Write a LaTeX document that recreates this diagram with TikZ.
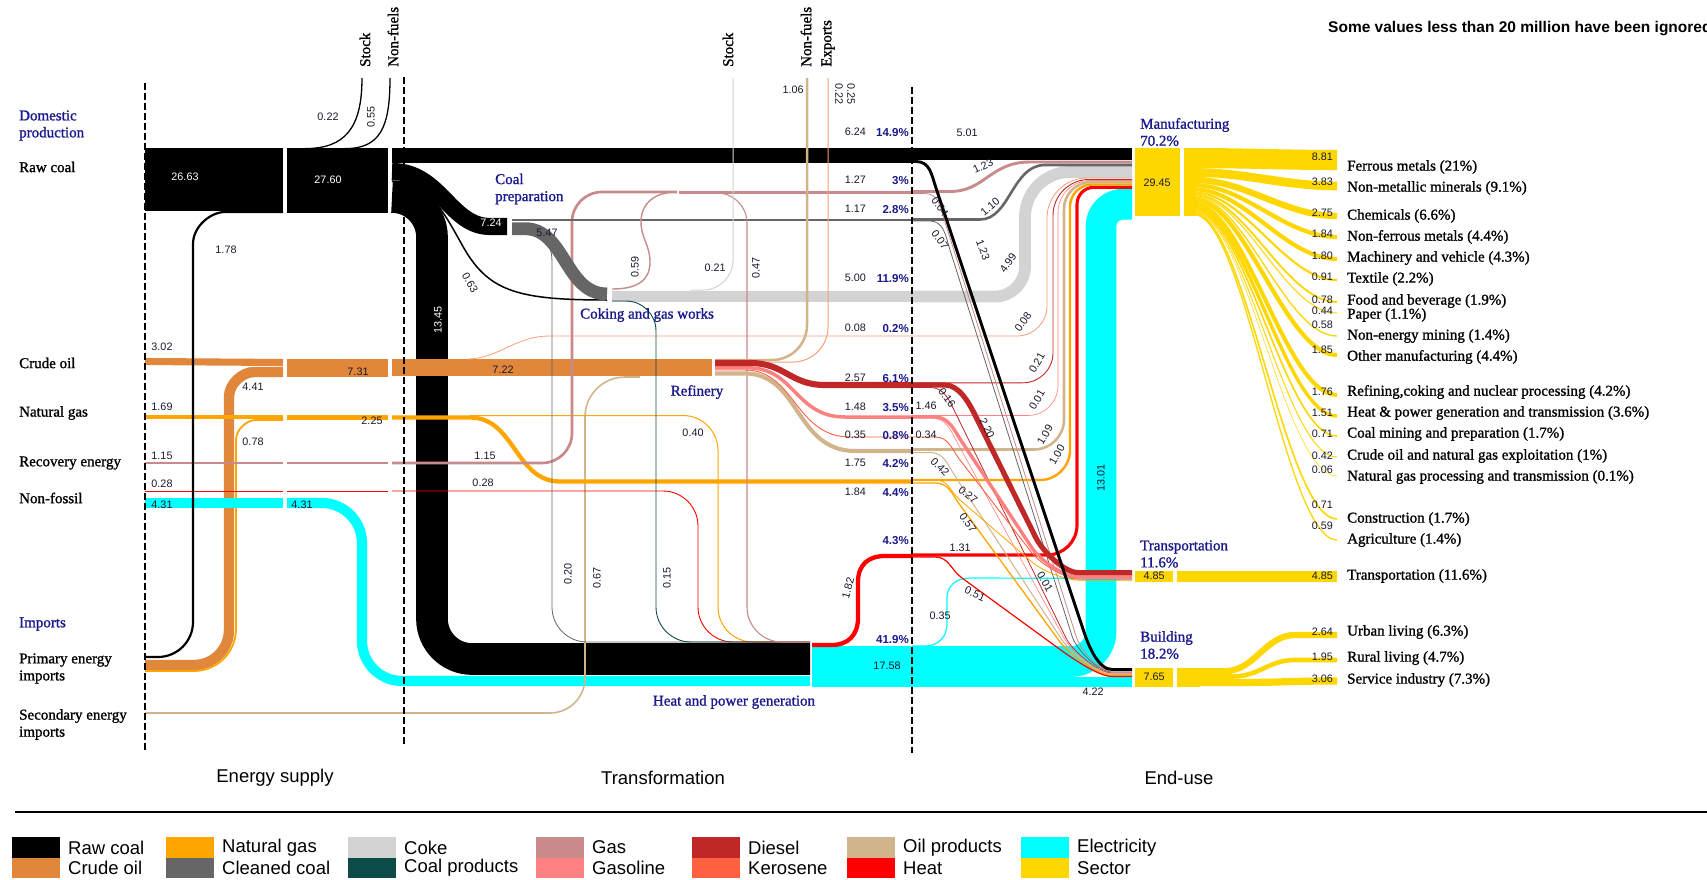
\documentclass[tikz,border=0pt]{standalone}
\usepackage{fontspec}
\setmainfont[FakeBold=1.2]{Liberation Serif}
\newfontfamily\sansf{Liberation Sans}
\usetikzlibrary{calc}
\definecolor{crude}{RGB}{224,135,60}
\definecolor{ngas}{RGB}{255,165,0}
\definecolor{clean}{RGB}{102,102,102}
\definecolor{coke}{RGB}{211,211,211}
\definecolor{cprod}{RGB}{12,75,72}
\definecolor{gas}{RGB}{200,138,138}
\definecolor{gasoline}{RGB}{255,128,128}
\definecolor{diesel}{RGB}{192,40,40}
\definecolor{kero}{RGB}{255,96,64}
\definecolor{oilp}{RGB}{210,180,140}
\definecolor{heat}{RGB}{255,0,0}
\definecolor{elec}{RGB}{0,255,255}
\definecolor{sector}{RGB}{255,215,0}
\definecolor{navy}{RGB}{25,25,140}
\definecolor{lsalmon}{RGB}{244,160,120}
\definecolor{txt}{RGB}{25,25,45}
\newcommand\labfont{\fontsize{15}{17}\selectfont}
\newcommand\numfont{\sansf\fontsize{10.8}{12}\selectfont}
\newcommand\pctfont{\sansf\bfseries\fontsize{11.5}{13}\selectfont}
\newcommand\legfont{\sansf\fontsize{18.5}{20}\selectfont}
\newcommand\secfont{\sansf\fontsize{18.5}{20}\selectfont}
\newcommand\titfont{\sansf\bfseries\fontsize{15.5}{17}\selectfont}
% up-turning flow into manufacturing: style, y0, xv, ytop, r1, r2
\newcommand\upl[6]{\draw[#1] (912,#2) -- ({#3-#5},#2) .. controls ({#3-0.448*#5},#2) and (#3,{#2-0.448*#5}) .. (#3,{#2-#5}) -- (#3,{#4+#6}) .. controls (#3,{#4+0.448*#6}) and ({#3+0.448*#6},#4) .. ({#3+#6},#4) -- (1132,#4);}
% diagonal flow: style, y0, xs, B, C, xe, ye
\newcommand\flw[7]{\draw[#1] (912,#2) -- (#3,#2) .. controls ($(#3,#2)+(14,0)$) and ($(#4)!-14pt!(#5)$) .. (#4) -- (#5) .. controls ($(#5)!-14pt!(#4)$) and ($(#6,#7)+(-14,0)$) .. (#6,#7) -- (1132,#7);}
\newcommand\sfan[3]{\draw[sector, line width=#1] (1194,#2) .. controls (1245,#2) and (1285,#3) .. (1337,#3);}
\newcommand\legitem[4]{\fill[#3] (#1,#2) rectangle ++(48,20.5); \node[font=\legfont, anchor=west, inner sep=0pt] at ({#1+56},{#2+10.5}) {#4};}
\tikzset{
  num/.style={font=\numfont, inner sep=0pt, text=txt},
  wnum/.style={font=\numfont, inner sep=0pt, text=white},
  lab/.style={font=\labfont, inner sep=0pt, anchor=west, align=left},
  nlab/.style={font=\labfont, inner sep=0pt, anchor=west, align=left, text=navy},
  pct/.style={font=\pctfont, inner sep=0pt, anchor=east, text=navy},
  rlab/.style={font=\labfont, inner sep=0pt, anchor=west, rotate=90},
  slab/.style={font=\labfont, inner sep=0pt, anchor=west},
  snum/.style={font=\numfont, inner sep=0pt, anchor=east, text=txt},
  vdash/.style={line width=2.2, dash pattern=on 7pt off 3pt},
}
\begin{document}
\begin{tikzpicture}[x=1pt,y=-1pt,line join=round]
\useasboundingbox (0,0) rectangle (1707,880);
\fill[white] (0,0) rectangle (1707,880);

% ---------- transformation: big raw coal to H&P and electricity
\draw[line width=31.7] (392,197) .. controls (414,197) and (432,215) .. (432,237) -- (432,619) .. controls (432,641) and (450,659) .. (472,659) -- (810,659);
\draw[elec, line width=10.2] (287,503) -- (322,503) .. controls (344,503) and (362,521) .. (362,543) -- (362,641) .. controls (362,663) and (380,681) .. (402,681) -- (810,681);

% ---------- import verticals
\draw[crude, line width=10.4] (145,665) -- (194,665) .. controls (213.3,665) and (229,649.3) .. (229,630) -- (229,397) .. controls (229,383.2) and (242.8,372) .. (254,372) -- (283,372);
\draw[ngas, line width=1.8] (145,671) -- (194,671) .. controls (217.2,671) and (236,652.2) .. (236,629) -- (236,440) .. controls (236,429) and (247,420) .. (256,420) -- (283,420);
\draw[oilp, line width=1.6] (145,713) -- (550,713) .. controls (569.3,713) and (585,697.3) .. (585,678) -- (585,417) .. controls (585,394.9) and (602.9,377) .. (625,377) -- (640,377);

% ---------- supply horizontals
\fill (145,148) rectangle (283,211);
\fill (287,148) rectangle (388,213);
\draw[crude, line width=7.1] (145,361.5) -- (283,362.5);
\fill[crude] (287,359) rectangle (388,377);
\draw[ngas, line width=4] (145,417) -- (283,417);
\fill[ngas] (287,414.5) rectangle (388,420);
\draw[gas, line width=2.7] (145,463) -- (283,463) (287,463) -- (388,463);
\draw[heat, line width=0.9] (145,491) -- (283,491) (287,491) -- (388,491);
\draw[elec, line width=10.2] (145,503) -- (283,503);
\draw[line width=1.3] (305,148.6) .. controls (345,148.6) and (362,128) .. (362,78);
\draw[line width=1.3] (345,148.6) .. controls (380,148.6) and (390,128) .. (390,78);
\draw[line width=2.2] (145,657) -- (158,657) .. controls (177.3,657) and (193,641.3) .. (193,622) -- (193,244) .. controls (193,226.3) and (210.7,212) .. (225,212) -- (283,212);

% ---------- transformation horizontals
\fill (392,148) rectangle (912,163);
\fill[crude] (392,359) rectangle (712,376);
\draw[lsalmon, line width=0.8] (468,359) .. controls (500,358) and (515,336) .. (550,336) -- (912,336);
\draw[ngas, line width=4.3] (392,417.5) -- (470,417.5) .. controls (515,417.5) and (515,481.5) .. (560,481.5) -- (912,481.5);
\draw[ngas, line width=1] (470,415.5) -- (683,415.5) .. controls (702.3,415.5) and (718,431.2) .. (718,450.5) -- (718,607) .. controls (718,626.3) and (733.7,642) .. (753,642) -- (810,642);
\draw[gas, line width=2.7] (392,463) -- (542,463) .. controls (558.6,463) and (572,449.6) .. (572,433) -- (572,222) .. controls (572,205.4) and (585.4,192) .. (602,192) -- (677,192);
\draw[heat, line width=0.9] (392,491) -- (663,491) .. controls (682.3,491) and (698,506.7) .. (698,526) -- (698,607) .. controls (698,626.3) and (713.7,642) .. (733,642) -- (810,642);

% ---------- coal preparation and coking
\draw[line width=17.1] (392,171.5) .. controls (440,171.5) and (450,226.5) .. (490,226.5) -- (507,226.5);
\draw[line width=1.5] (392,181) .. controls (430,181) and (445,215) .. (465,250) .. controls (490,292) and (520,300) .. (607,300);
\draw[clean, line width=2.8] (512,220) -- (912,220);
\draw[clean, line width=12.9] (512,228.7) -- (525,228.7) .. controls (565,228.7) and (565,294) .. (607,294);
\draw[clean, line width=0.8] (536,236) .. controls (548,240) and (552,248) .. (552,262) -- (552,607) .. controls (552,626.3) and (567.7,642) .. (587,642) -- (810,642);
\draw[coke, line width=11.8] (612,296.5) -- (913,296.5);
\draw[cprod, line width=0.9] (612,301) -- (626,301) .. controls (642.6,301) and (656,314.4) .. (656,331) -- (656,607) .. controls (656,626.3) and (671.7,642) .. (691,642) -- (810,642);
\draw[gas, line width=1.4] (612,289) .. controls (638,289) and (650,280) .. (650,262) .. controls (650,245) and (641,238) .. (641,222) .. controls (641,203) and (655,192) .. (677,192);
\draw[gas, line width=3] (679,192) -- (912,192);
\draw[gas, line width=1.1] (705,193) -- (717,193) .. controls (733.6,193) and (747,206.4) .. (747,223) -- (747,607) .. controls (747,626.3) and (762.7,642) .. (782,642) -- (810,642);
\draw[coke, line width=1] (690,290) -- (703,290) .. controls (719.6,290) and (733,276.6) .. (733,260) -- (733,78);

% ---------- refinery outputs
\draw[oilp, line width=2.5] (715,360) -- (772,360) .. controls (791.3,360) and (807,344.3) .. (807,325) -- (807,78);
\draw[lsalmon, line width=1] (715,362) -- (793,362) .. controls (812.3,362) and (828,346.3) .. (828,327) -- (828,78);
\draw[oilp, line width=4.1] (715,373.5) -- (745,373.5) .. controls (800,373.5) and (795,451) .. (855,451) -- (912,451);
\draw[kero, line width=0.9] (715,370) -- (745,370) .. controls (795,370) and (795,437) .. (850,437) -- (912,437);
\draw[gasoline, line width=3.5] (715,367.8) -- (748,367.8) .. controls (795,367.8) and (795,417) .. (845,417) -- (912,417);
\draw[diesel, line width=6.1] (715,363) -- (750,363) .. controls (785,363) and (790,385) .. (825,385) -- (912,385);

% ---------- heat and power outputs
\fill[elec] (812,645.5) rectangle (913,687);
\draw[heat, line width=4.3] (812,645) -- (832,645) .. controls (848,645) and (858,635) .. (858,618) -- (858,582) .. controls (858,565) and (868,556) .. (885,556) -- (912,556);

% ---------- end-use
\upl{elec, line width=30.7}{661.5}{1101}{204.2}{30}{22}
\draw[elec, line width=10] (912,682) -- (1132,682);
\draw[elec, line width=1.2] (912,646) -- (925,646) .. controls (938,646) and (947,637) .. (947,624) -- (947,598) .. controls (947,586) and (956,578) .. (970,578) -- (1132,578.5);
\fill (912,148) rectangle (1132,160);
\upl{coke, line width=11.8}{296.5}{1025}{172}{30}{45}
\draw[gas, line width=2.9] (912,191.5) -- (950,191.5) .. controls (985,191.5) and (990,162) .. (1030,162) -- (1132,162);
\draw[clean, line width=2.6] (912,219.5) -- (980,219.5) .. controls (1010,219.5) and (1012,165) .. (1045,165) -- (1132,165);
\upl{lsalmon, line width=0.8}{336}{1047}{178}{30}{40}
\upl{diesel, line width=0.9}{382.8}{1053}{179.5}{30}{36}
\upl{gasoline, line width=0.6}{415.5}{1058}{180.5}{30}{32}
\upl{oilp, line width=2.6}{449.5}{1064}{182}{30}{27}
\upl{ngas, line width=2.4}{480}{1070}{184.5}{30}{22}
\upl{heat, line width=3.1}{555}{1077}{187.3}{30}{17}
% to building
\flw{gas, line width=0.8}{193.5}{925}{945,222}{1076,636}{1112}{671}
\flw{clean, line width=0.8}{221}{930}{950,250}{1072,636}{1112}{672}
\flw{diesel, line width=0.8}{387.5}{930}{955,412}{1066,638}{1112}{673}
\flw{gasoline, line width=0.6}{418}{932}{957,442}{1064,638}{1112}{673.6}
\flw{oilp, line width=1}{452.5}{930}{955,476}{1062,640}{1112}{674.3}
\flw{ngas, line width=1.3}{483}{935}{960,505}{1060,642}{1112}{675.5}
\flw{heat, line width=1.2}{557}{935}{962,578}{1058,648}{1112}{676.5}
% to transportation
\flw{ngas, line width=0.8}{480}{935}{960,500}{1032,562}{1080}{580.2}
\flw{kero, line width=0.9}{437}{935}{960,460}{1032,553}{1080}{579.2}
\flw{gasoline, line width=3.4}{417}{935}{962,442}{1032,548}{1078}{576.9}
\flw{diesel, line width=5.2}{385}{945}{975,415}{1036,538}{1078}{572.6}
\flw{black, line width=2.9}{161.5}{916}{936,188}{1084,632}{1112}{669.5}

% ---------- sectors
\fill[sector] (1135,148) rectangle (1180,216);
\fill[sector] (1184,148) rectangle (1196,216);
\sfan{20.1}{158.05}{160}
\sfan{8.7}{172.45}{186}
\sfan{6.3}{179.95}{216}
\sfan{4.2}{185.2}{237}
\sfan{4.1}{189.35}{259}
\sfan{2.1}{192.45}{280}
\sfan{1.8}{194.4}{302}
\sfan{1.0}{195.8}{313}
\sfan{1.3}{196.95}{336}
\sfan{4.2}{199.7}{355}
\sfan{4.0}{203.8}{395}
\sfan{3.4}{207.5}{416}
\sfan{1.6}{210}{436}
\sfan{1.0}{211.3}{457}
\sfan{0.5}{212.05}{476}
\sfan{1.6}{213.1}{519}
\sfan{1.3}{214.55}{540}
\fill[sector] (1135,570.5) rectangle (1173,582);
\fill[sector] (1177,570.5) rectangle (1337,582);
\fill[sector] (1135,668) rectangle (1173,686.5);
\fill[sector] (1177,668) rectangle (1200,686.5);
\draw[sector, line width=6.2] (1199,671.1) -- (1225,671.1) .. controls (1255,671.1) and (1265,635) .. (1295,635) -- (1337,635);
\draw[sector, line width=4.6] (1199,676.5) -- (1232,676.5) .. controls (1260,676.5) and (1268,660) .. (1295,660) -- (1337,660);
\draw[sector, line width=7.2] (1199,682.4) -- (1250,682.4) .. controls (1280,682.4) and (1290,681) .. (1337,681);

% ---------- dashed column separators
\draw[vdash] (145,83) -- (145,751);
\draw[vdash] (404,77) -- (404,745);
\draw[vdash] (912,87) -- (912,753);

% ---------- left labels
\node[nlab] (dom) at (19,125.5) {Domestic\\production};
\node[lab] (rawc) at (19,167) {Raw coal};
\node[lab] (crl) at (19,363) {Crude oil};
\node[lab] (ngl) at (19,413) {Natural gas};
\node[lab] (rel) at (19,463) {Recovery energy};
\node[lab] (nfl) at (19,498) {Non-fossil};
\node[nlab] (imp) at (19,624) {Imports};
\node[lab] (pei) at (19,668.5) {Primary energy\\imports};
\node[lab] (sei) at (19,724.5) {Secondary energy\\imports};
\node[rlab] (st1) at (365,67) {Stock};
\node[rlab] (nf1) at (393,67) {Non-fuels};
\node[rlab] (st2) at (728,67) {Stock};
\node[rlab] (nf2) at (806,67) {Non-fuels};
\node[rlab] (exl) at (828,67) {Exports};

% supply numbers
\node[wnum] at (185,177) {26.63};
\node[wnum] at (328,180) {27.60};
\node[num] at (328,117) {0.22};
\node[num, rotate=90] at (371,117) {0.55};
\node[num] at (226,250) {1.78};
\node[num] at (162,347) {3.02};
\node[num] at (253,387) {4.41};
\node[num] at (358,372) {7.31};
\node[num] at (162,407) {1.69};
\node[num] at (253,442) {0.78};
\node[num] at (372,421) {2.25};
\node[num] at (162,456) {1.15};
\node[num] at (162,484) {0.28};
\node[num] at (162,505) {4.31};
\node[num] at (302,505) {4.31};

% transformation labels
\node[nlab] (cpl) at (495,189) {Coal\\preparation};
\node[nlab] (cgl) at (580,315) {Coking and gas works};
\node[text=navy, font=\labfont, inner sep=0pt] (rfl) at (697,392) {Refinery};
\node[text=navy, font=\labfont, inner sep=0pt] (hpl) at (734,702) {Heat and power generation};
\node[wnum] at (491,223) {7.24};
\node[num] at (547,233) {5.47};
\node[num, rotate=-60] at (470,283) {0.63};
\node[wnum, rotate=90] at (438,320) {13.45};
\node[num, rotate=90] at (635,267) {0.59};
\node[num] at (715,268) {0.21};
\node[num, rotate=90] at (756,268) {0.47};
\node[num] at (793,90) {1.06};
\node[num, rotate=-90] at (839,94) {0.22};
\node[num, rotate=-90] at (851,94) {0.25};
\node[num] at (503,370) {7.22};
\node[num] at (485,456) {1.15};
\node[num] at (483,483) {0.28};
\node[num] at (693,433) {0.40};
\node[num, rotate=90] at (568,574) {0.20};
\node[num, rotate=90] at (597,578) {0.67};
\node[num, rotate=90] at (667,578) {0.15};
\node[num, rotate=75] at (848,588) {1.82};

% boundary values and shares
\node[snum] at (866,132) {6.24};  \node[pct] at (909,133) {14.9\%};
\node[snum] at (866,180) {1.27};  \node[pct] at (909,181) {3\%};
\node[snum] at (866,209) {1.17};  \node[pct] at (909,210) {2.8\%};
\node[snum] at (866,278) {5.00};  \node[pct] at (909,279) {11.9\%};
\node[snum] at (866,328) {0.08};  \node[pct] at (909,329) {0.2\%};
\node[snum] at (866,378) {2.57};  \node[pct] at (909,379) {6.1\%};
\node[snum] at (866,407) {1.48};  \node[pct] at (909,408) {3.5\%};
\node[snum] at (866,435) {0.35};  \node[pct] at (909,436) {0.8\%};
\node[snum] at (866,463) {1.75};  \node[pct] at (909,464) {4.2\%};
\node[snum] at (866,492) {1.84};  \node[pct] at (909,493) {4.4\%};
\node[pct] at (909,541) {4.3\%};
\node[pct] at (909,640) {41.9\%};
\node[num] at (887,666) {17.58};

% end-use flow labels
\node[num] at (967,133) {5.01};
\node[num, rotate=25] at (983,166) {1.23};
\node[num, rotate=-55] at (940,207) {0.04};
\node[num, rotate=40] at (990,207) {1.10};
\node[num, rotate=-55] at (940,240) {0.07};
\node[num, rotate=-70] at (983,250) {1.23};
\node[num, rotate=55] at (1008,263) {4.99};
\node[num, rotate=55] at (1023,322) {0.08};
\node[num, rotate=60] at (1037,363) {0.21};
\node[num, rotate=-55] at (947,398) {0.16};
\node[num, rotate=60] at (1037,400) {0.01};
\node[num] at (926,406) {1.46};
\node[num, rotate=-65] at (987,428) {2.20};
\node[num] at (926,435) {0.34};
\node[num, rotate=60] at (1045,435) {1.09};
\node[num, rotate=60] at (1057,455) {1.00};
\node[num, rotate=-45] at (940,467) {0.42};
\node[num, rotate=90] at (1101,478) {13.01};
\node[num, rotate=-40] at (968,495) {0.27};
\node[num, rotate=-55] at (968,523) {0.57};
\node[num] at (960,548) {1.31};
\node[num, rotate=-60] at (1045,582) {0.01};
\node[num, rotate=-25] at (975,594) {0.51};
\node[num] at (940,616) {0.35};
\node[num] at (1093,692) {4.22};

% end-use sector labels
\node[nlab] (manl) at (1140,132) {Manufacturing\\70.2\%};
\node[nlab] (tral) at (1140,554) {Transportation\\11.6\%};
\node[nlab] (bull) at (1140,645) {Building\\18.2\%};
\node[num] at (1157,183) {29.45};
\node[num] at (1154,576) {4.85};
\node[num] at (1154,677) {7.65};

\node[snum] at (1333,157) {8.81};  \node[slab] at (1347,167) {Ferrous metals (21\%)};
\node[snum] at (1333,182) {3.83};  \node[slab] at (1347,188) {Non-metallic minerals (9.1\%)};
\node[snum] at (1333,213) {2.75};  \node[slab] at (1347,216) {Chemicals (6.6\%)};
\node[snum] at (1333,234) {1.84};  \node[slab] at (1347,237) {Non-ferrous metals (4.4\%)};
\node[snum] at (1333,256) {1.80};  \node[slab] at (1347,258) {Machinery and vehicle (4.3\%)};
\node[snum] at (1333,277) {0.91};  \node[slab] at (1347,279) {Textile (2.2\%)};
\node[snum] at (1333,300) {0.78};  \node[slab] at (1347,301) {Food and beverage (1.9\%)};
\node[snum] at (1333,311) {0.44};  \node[slab] at (1347,315) {Paper (1.1\%)};
\node[snum] at (1333,325) {0.58};  \node[slab] at (1347,336) {Non-energy mining (1.4\%)};
\node[snum] at (1333,350) {1.85};  \node[slab] at (1347,357) {Other manufacturing (4.4\%)};
\node[snum] at (1333,392) {1.76};  \node[slab] at (1347,392) {Refining,coking and nuclear processing (4.2\%)};
\node[snum] at (1333,413) {1.51};  \node[slab] at (1347,413) {Heat \& power generation and transmission (3.6\%)};
\node[snum] at (1333,434) {0.71};  \node[slab] at (1347,434) {Coal mining and preparation (1.7\%)};
\node[snum] at (1333,456) {0.42};  \node[slab] at (1347,456) {Crude oil and natural gas exploitation (1\%)};
\node[snum] at (1333,470) {0.06};  \node[slab] at (1347,477) {Natural gas processing and transmission (0.1\%)};
\node[snum] at (1333,505) {0.71};  \node[slab] at (1347,519) {Construction (1.7\%)};
\node[snum] at (1333,526) {0.59};  \node[slab] at (1347,540) {Agriculture (1.4\%)};
\node[snum] at (1333,576) {4.85};  \node[slab] at (1347,576) {Transportation (11.6\%)};
\node[snum] at (1333,632) {2.64};  \node[slab] at (1347,632) {Urban living (6.3\%)};
\node[snum] at (1333,657) {1.95};  \node[slab] at (1347,658) {Rural living (4.7\%)};
\node[snum] at (1333,679) {3.06};  \node[slab] at (1347,680) {Service industry (7.3\%)};

\node[font=\titfont, anchor=west, inner sep=0pt] (title) at (1328,29) {Some values less than 20 million have been ignored};

% ---------- bottom
\node[font=\secfont, inner sep=0pt] (es) at (275,778) {Energy supply};
\node[font=\secfont, inner sep=0pt] (tr) at (663,778) {Transformation};
\node[font=\secfont, inner sep=0pt] (eu) at (1179,778) {End-use};
\draw[line width=2] (15,812) -- (1707,812);
\legitem{12}{837}{black}{Raw coal}
\legitem{12}{857.5}{crude}{Crude oil}
\legitem{166}{837}{ngas}{Natural gas}
\legitem{166}{857.5}{clean}{Cleaned coal}
\legitem{348}{837}{coke}{Coke}
\legitem{348}{857.5}{cprod}{Coal products}
\legitem{536}{837}{gas}{Gas}
\legitem{536}{857.5}{gasoline}{Gasoline}
\legitem{692}{837}{diesel}{Diesel}
\legitem{692}{857.5}{kero}{Kerosene}
\legitem{847}{837}{oilp}{Oil products}
\legitem{847}{857.5}{heat}{Heat}
\legitem{1021}{837}{elec}{Electricity}
\legitem{1021}{857.5}{sector}{Sector}
\end{tikzpicture}
\end{document}
